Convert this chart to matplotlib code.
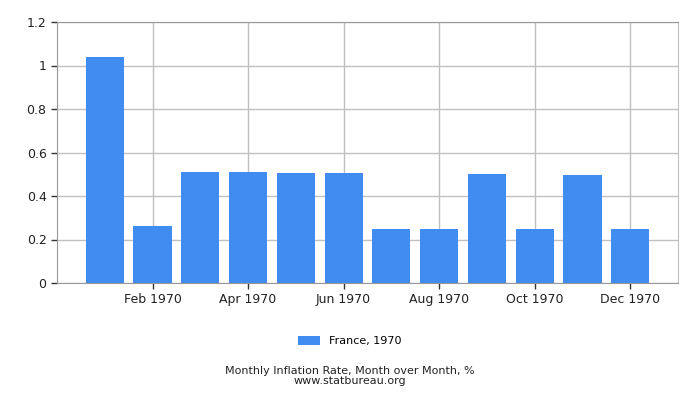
import numpy as np
import matplotlib
matplotlib.use('Agg')
import matplotlib.pyplot as plt

# monthly inflation, France 1970
months = ['Jan 1970', 'Feb 1970', 'Mar 1970', 'Apr 1970', 'May 1970', 'Jun 1970',
          'Jul 1970', 'Aug 1970', 'Sep 1970', 'Oct 1970', 'Nov 1970', 'Dec 1970']
values = [1.04, 0.26, 0.51, 0.51, 0.506, 0.506, 0.249, 0.249, 0.501, 0.249, 0.497, 0.249]
yticks = [0, 0.2, 0.4, 0.6, 0.8, 1, 1.2]
ytick_labels = ['0', '0.2', '0.4', '0.6', '0.8', '1', '1.2']

fig = plt.figure(figsize=(7, 4), dpi=100)
ax = fig.add_axes([0.0814, 0.2925, 0.8872, 0.6525])

x = np.arange(len(months))
ax.bar(x, values, width=0.8, color='#418cf0', label='France, 1970', zorder=2)

ax.set_xlim(-1, 12)
ax.set_ylim(0, 1.2)
ax.set_xticks(x[1::2])
ax.set_xticklabels(months[1::2], fontsize=9)
ax.set_yticks(yticks)
ax.set_yticklabels(ytick_labels, fontsize=9)
ax.grid(True, color='#c0c0c0', linewidth=1, zorder=0)
ax.set_axisbelow(True)
ax.tick_params(axis='both', color='#333333', length=4, width=1, labelcolor='#222222')

for s in ['left', 'bottom', 'top']:
    ax.spines[s].set_color('#999999')
ax.spines['right'].set_color('#c0c0c0')

fig.legend(loc='center', bbox_to_anchor=(0.5, 0.147), frameon=False, fontsize=8,
           handlelength=2.0, handleheight=0.8)
fig.text(0.5, 0.064, 'Monthly Inflation Rate, Month over Month, %', ha='center',
         fontsize=8, color='#222222')
fig.text(0.5, 0.039, 'www.statbureau.org', ha='center', fontsize=8, color='#222222')

fig.savefig('out.png', dpi=100)
